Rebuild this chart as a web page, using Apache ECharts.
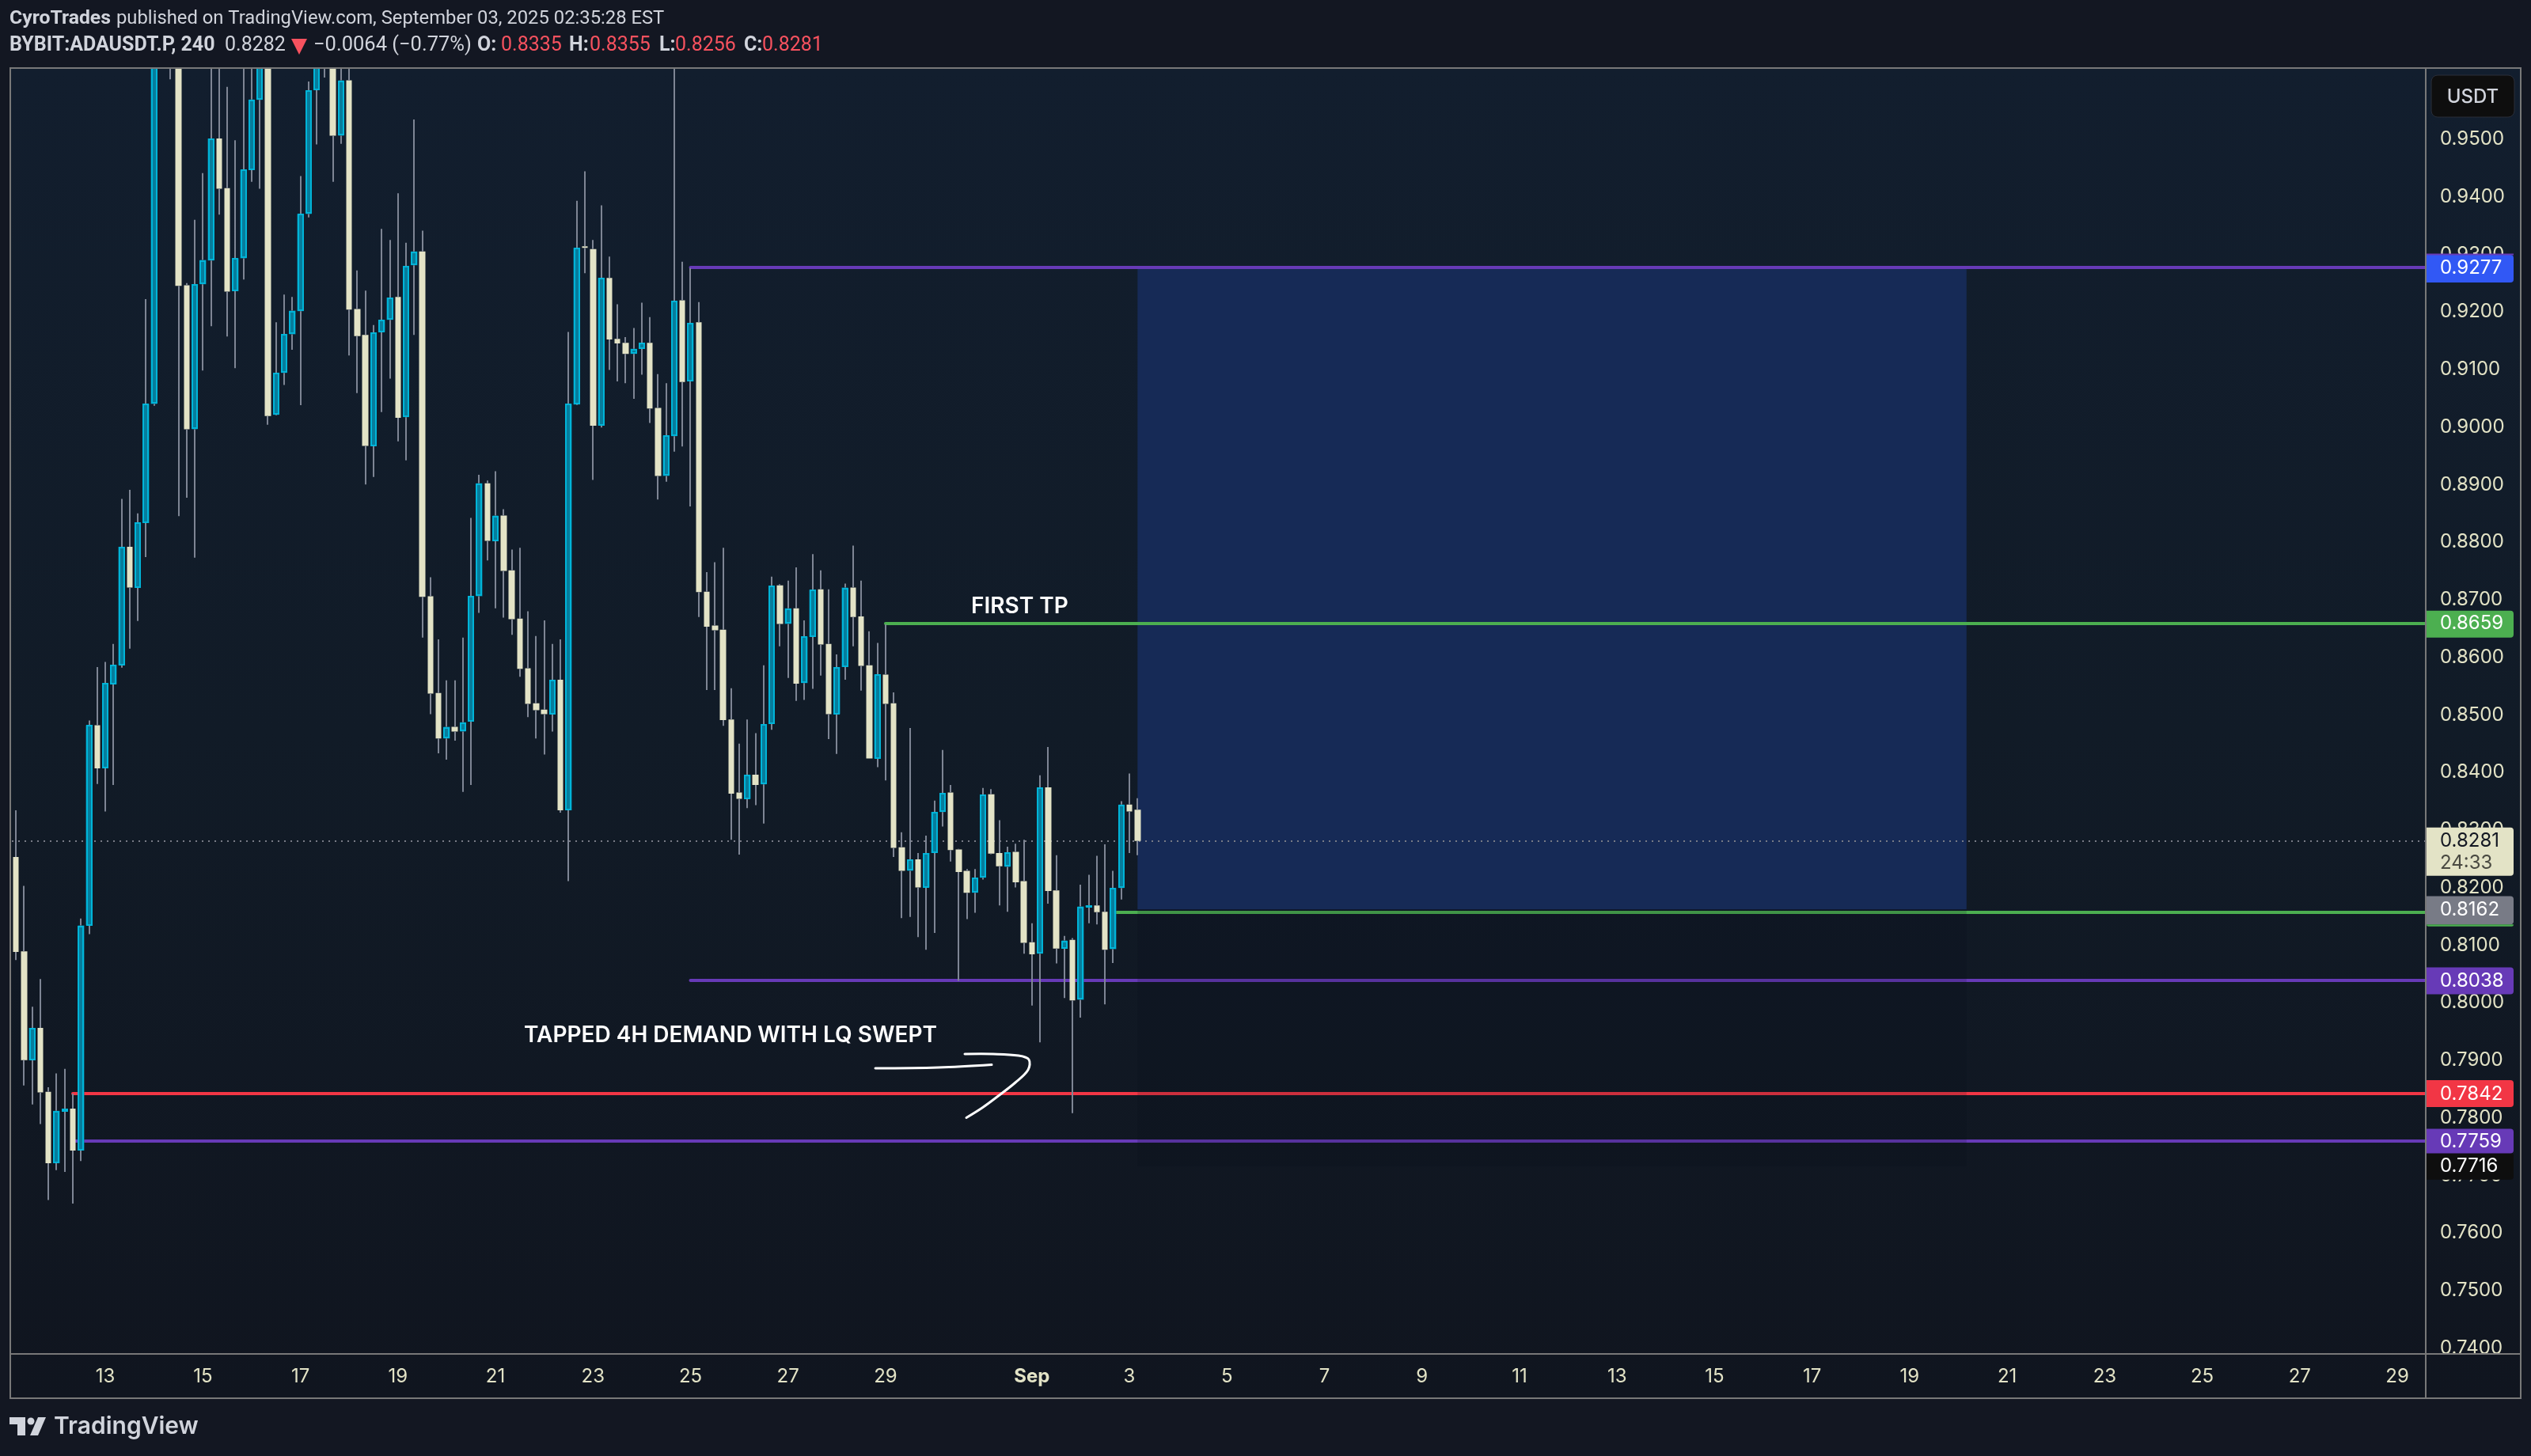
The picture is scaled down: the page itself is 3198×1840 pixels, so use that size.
<!DOCTYPE html>
<html><head><meta charset="utf-8">
<style>html,body{margin:0;padding:0;background:#131722}#c{width:3198px;height:1840px}</style>
<script src="https://cdn.jsdelivr.net/npm/echarts@6/dist/echarts.min.js"></script>
</head><body><div id="c"></div>
<script>
// [open, high, low, close] per 4h bar
const ohlc = [
[.8253,.8334,.8074,.8088],[.8089,.8203,.7856,.7900],[.7900,.7993,.7823,.7956],[.7956,.8041,.7789,.7844],
[.7845,.7853,.7657,.7721],[.7721,.7877,.7709,.7812],[.7811,.7885,.7706,.7816],[.7816,.7842,.7651,.7743],
[.7743,.8146,.7725,.8134],[.8134,.8490,.8119,.8482],[.8482,.8583,.8380,.8407],[.8407,.8592,.8332,.8555],
[.8553,.8623,.8378,.8587],[.8586,.8875,.8582,.8792],[.8792,.8891,.8615,.8721],[.8721,.8850,.8663,.8834],
[.8833,.9222,.8774,.9040],[.9040,.9850,.9037,.9800],[.9800,1.0150,.9720,1.0050],[1.0050,1.0200,.9604,.9950],
[.9950,.9980,.8845,.9245],[.9246,.9250,.8877,.8996],[.8996,.9360,.8773,.9248],[.9248,.9441,.9098,.9290],
[.9289,.9700,.9175,.9501],[.9501,.9680,.9369,.9414],[.9415,.9591,.9157,.9235],[.9236,.9498,.9102,.9293],
[.9293,.9640,.9256,.9447],[.9446,.9670,.9426,.9569],[.9568,.9800,.9414,.9720],[.9720,.9760,.9004,.9019],
[.9021,.9182,.9020,.9094],[.9094,.9230,.9073,.9161],[.9161,.9226,.9134,.9202],[.9201,.9436,.9038,.9370],
[.9370,.9600,.9364,.9585],[.9585,.9750,.9491,.9700],[.9760,.9800,.9607,.9700],[.9680,.9730,.9426,.9506],
[.9506,.9700,.9492,.9602],[.9602,.9680,.9124,.9204],[.9205,.9272,.9059,.9158],[.9160,.9237,.8900,.8967],
[.8967,.9177,.8913,.9164],[.9165,.9344,.9026,.9186],[.9186,.9325,.9084,.9225],[.9226,.9406,.8975,.9016],
[.9017,.9320,.8942,.9280],[.9281,.9534,.9160,.9305],[.9305,.9341,.8634,.8705],[.8706,.8739,.8501,.8537],
[.8538,.8631,.8433,.8459],[.8459,.8560,.8422,.8479],[.8479,.8560,.8455,.8471],[.8471,.8634,.8366,.8487],
[.8488,.8842,.8378,.8706],[.8706,.8917,.8677,.8902],[.8902,.8907,.8768,.8802],[.8802,.8923,.8685,.8846],
[.8846,.8857,.8669,.8750],[.8751,.8787,.8639,.8666],[.8667,.8790,.8566,.8580],[.8581,.8680,.8496,.8519],
[.8520,.8637,.8459,.8508],[.8509,.8664,.8431,.8501],[.8501,.8623,.8471,.8561],[.8561,.8631,.8330,.8334],
[.8334,.9165,.8211,.9040],[.9039,.9393,.9038,.9311],[.9314,.9444,.9267,.9311],[.9309,.9325,.8908,.9002],
[.9002,.9385,.8999,.9259],[.9259,.9296,.9099,.9152],[.9153,.9213,.9079,.9145],[.9146,.9156,.9076,.9127],
[.9127,.9172,.9049,.9136],[.9136,.9216,.9091,.9146],[.9146,.9191,.9007,.9032],[.9033,.9092,.8874,.8915],
[.8915,.9076,.8905,.8985],[.8984,.9700,.8957,.9219],[.9220,.9287,.8966,.9078],[.9079,.9276,.8862,.9181],
[.9182,.9217,.8670,.8713],[.8714,.8748,.8543,.8653],[.8655,.8765,.8543,.8647],[.8648,.8790,.8481,.8491],
[.8492,.8546,.8283,.8363],[.8365,.8450,.8257,.8354],[.8354,.8492,.8338,.8396],[.8396,.8468,.8343,.8378],
[.8379,.8586,.8311,.8484],[.8484,.8740,.8474,.8724],[.8725,.8727,.8619,.8658],[.8658,.8733,.8564,.8685],
[.8685,.8756,.8524,.8554],[.8555,.8664,.8526,.8636],[.8635,.8779,.8545,.8717],[.8718,.8751,.8568,.8622],
[.8623,.8718,.8458,.8501],[.8501,.8605,.8432,.8583],[.8583,.8728,.8561,.8721],[.8721,.8794,.8619,.8670],
[.8671,.8733,.8542,.8585],[.8586,.8645,.8424,.8424],[.8424,.8625,.8409,.8570],[.8570,.8657,.8386,.8519],
[.8520,.8539,.8253,.8269],[.8270,.8296,.8147,.8229],[.8229,.8477,.8149,.8249],[.8249,.8260,.8114,.8200],
[.8200,.8290,.8092,.8260],[.8260,.8351,.8121,.8331],[.8331,.8439,.8306,.8364],[.8365,.8378,.8245,.8265],
[.8266,.8267,.8038,.8227],[.8229,.8232,.8145,.8191],[.8191,.8232,.8156,.8217],[.8217,.8373,.8214,.8361],
[.8362,.8371,.8258,.8259],[.8260,.8317,.8169,.8237],[.8236,.8271,.8158,.8261],[.8262,.8276,.8200,.8209],
[.8211,.8283,.8085,.8104],[.8105,.8138,.7995,.8084],[.8085,.8395,.7931,.8374],[.8374,.8444,.8172,.8194],
[.8195,.8256,.8068,.8094],[.8094,.8116,.8008,.8108],[.8109,.8112,.7808,.8004],[.8005,.8205,.7974,.8167],
[.8166,.8222,.8138,.8169],[.8169,.8255,.8136,.8157],[.8158,.8275,.7997,.8092],[.8093,.8229,.8069,.8199],
[.8199,.8350,.8179,.8344],[.8344,.8398,.8260,.8332],[.8335,.8355,.8256,.8281]
];
// time axis: bars per day is six; labels sit on local midnights
const barCount = 297;
const firstLabelBar = 11;
const barsPerDay = 6;
const dayLabels = ['13','15','17','19','21','23','25','27','29','Sep','3','5','7','9','11','13','15','17','19','21','23','25','27','29'];
const dayGaps   = [0,2,2,2,2,2,2,2,2,3,2,2,2,2,2,2,2,2,2,2,2,2,2,2];
const priceTicks = [.74,.75,.76,.77,.78,.79,.80,.81,.82,.83,.84,.85,.86,.87,.88,.89,.90,.91,.92,.93,.94,.95];
const priceMin = 0.73898, priceMax = 0.96221;

// horizontal levels: [first bar, price, colour]
const levelBars   = [83, 107, 135, 83, 7, 7];
const levelPrices = [.9277, .8659, .8157, .8038, .7842, .7759];
const levelColors = ['#673ab7', '#4caf50', '#4caf50', '#673ab7', '#f23645', '#673ab7'];
const lastPrice = 0.8281;

// risk/reward zone: first bar, last bar, target, entry, stop
const zoneFirstBar = 138, zoneLastBar = 240;
const zoneTarget = 0.9277, zoneEntry = 0.8162, zoneStop = 0.7716;

// price tags on the axis
const tagPrices = [.9277,.8659,.8281,.8162,.8038,.7842,.7716,.7759];
const tagTexts  = ['0.9277','0.8659','0.8281','0.8162','0.8038','0.7842','0.7716','0.7759'];
const tagFills  = ['#3158f5','#4caf50','#e3e3c6','#787b86','#673ab7','#f23645','#0e0e0e','#673ab7'];
const tagInks   = ['#ffffff','#ffffff','#131722','#ffffff','#ffffff','#ffffff','#ffffff','#ffffff'];
const tagAbove  = [16,16,17,16.6,17,17,17,16];
const tagBelow  = [19,18,44,19,17,17,17,15];

const categories = new Array(barCount).fill('');
{ let b = firstLabelBar; dayLabels.forEach((t,k)=>{ b += dayGaps[k]*barsPerDay; categories[b] = t; }); }

const INK='#e3e3c6', UI='#d1d4dc', RED='#f7525f';
const F='Inter', R='Roboto';
const tx=(x,y,text,fill,font,weight,size)=>({type:'text',z:50,silent:true,style:{x,y,text,fill,fontFamily:font,fontWeight:weight||400,fontSize:size||24,textVerticalAlign:'middle',textAlign:'left'}});
const ln=(x1,y1,x2,y2,c,w)=>({type:'line',z:40,silent:true,shape:{x1,y1,x2,y2},style:{stroke:c||'#787878',lineWidth:w||2}});
const stroke=(pts)=>({type:'polyline',z:45,silent:true,shape:{points:pts,smooth:0.35},style:{stroke:'#ffffff',lineWidth:3,fill:null,lineCap:'round',lineJoin:'round'}});

const graphicEls=[
 {type:'rect',z:-10,silent:true,shape:{x:12,y:86,width:3173,height:1681},style:{fill:new echarts.graphic.LinearGradient(0,0,0,1,[{offset:0,color:'#121e2e'},{offset:.5,color:'#111b27'},{offset:1,color:'#10151f'}])}},
 {type:'rect',z:20,silent:true,shape:{x:0,y:0,width:3198,height:85},style:{fill:'#131722'}},
 ln(12,86,3186,86),ln(12,1767,3186,1767),ln(13,86,13,1767),ln(3185,86,3185,1767),ln(3065,86,3065,1767),ln(13,1711,3185,1711),
 {type:'rect',z:48,silent:true,shape:{x:3072,y:95,width:105,height:53,r:8},style:{fill:'#0e0e0e',stroke:'#2a2e39',lineWidth:1}},
 {type:'text',z:50,silent:true,style:{x:3124.5,y:122.5,text:'USDT',fill:'#d1d4dc',fontFamily:F,fontWeight:500,fontSize:24,textAlign:'center',textVerticalAlign:'middle'}},
 tx(12,24,'CyroTrades',UI,R,700,24.8),tx(147,24,'published on TradingView.com, September 03, 2025 02:35:28 EST',UI,R,400,23.8),
 tx(12,58,'BYBIT:ADAUSDT.P, 240',UI,R,700,25),tx(284,58,'0.8282',UI,R,400,25),
 {type:'polygon',z:50,silent:true,shape:{points:[[368,49],[388,49],[378,69]]},style:{fill:RED}},
 tx(396,58,'\u22120.0064 (\u22120.77%)',UI,R,400,25.5),
 tx(603,58,'O:',UI,R,700,25),tx(633,58,'0.8335',RED,R,400,25),tx(719,58,'H:',UI,R,700,25),tx(745,58,'0.8355',RED,R,400,25),
 tx(833,58,'L:',UI,R,700,25),tx(853,58,'0.8256',RED,R,400,25),tx(940,58,'C:',UI,R,700,25),tx(963,58,'0.8281',RED,R,400,25),
 tx(662,1308.5,'TAPPED 4H DEMAND WITH LQ SWEPT','#ffffff',F,600,28),
 tx(1227,766.5,'FIRST TP','#ffffff',F,600,28),
 stroke([[1106,1350],[1186,1349],[1253,1345.5]]),
 stroke([[1219,1332],[1255,1332],[1287,1334],[1300,1339],[1299,1352],[1283,1368],[1260,1386],[1241,1400],[1221,1412.5]]),
 {type:'rect',z:50,silent:true,shape:{x:12,y:1791,width:20,height:9},style:{fill:UI}},
 {type:'rect',z:50,silent:true,shape:{x:22,y:1791,width:10,height:23},style:{fill:UI}},
 {type:'circle',z:50,silent:true,shape:{cx:39,cy:1796,r:4.5},style:{fill:UI}},
 {type:'polygon',z:50,silent:true,shape:{points:[[48,1791],[58,1791],[48,1814],[38,1814]]},style:{fill:UI}},
 tx(68,1803,'TradingView',UI,F,600,30)
];

const barRows = ohlc.map((d,i)=>[i,d[0],d[1],d[2],d[3]]);
const candleData = ohlc.map(d=>[d[0],d[3],d[2],d[1]]);

const option={
 backgroundColor:'#131722',animation:false,
 grid:{left:15,right:133,top:87,bottom:129,containLabel:false},
 xAxis:{type:'category',data:categories,boundaryGap:true,axisLine:{show:false},axisTick:{show:false},splitLine:{show:false},
  axisLabel:{show:true,interval:0,margin:17,fontFamily:F,fontSize:24,color:INK,hideOverlap:false,
   formatter:v=>v==='Sep'?'{b|Sep}':v,rich:{b:{fontFamily:F,fontSize:24,fontWeight:700,color:INK}}}},
 yAxis:{type:'value',position:'right',min:priceMin,max:priceMax,scale:true,axisLine:{show:false},axisTick:{show:false},splitLine:{show:false},
  axisLabel:{show:true,customValues:priceTicks,margin:18,align:'left',padding:[3,0,0,0],fontFamily:F,fontSize:24,color:INK,showMinLabel:true,showMaxLabel:true,formatter:v=>v.toFixed(4)}},
 graphic:{elements:graphicEls},
 series:[
  {type:'custom',name:'zone',z:1,silent:true,clip:true,data:[[zoneFirstBar,zoneLastBar,zoneTarget,zoneEntry]],encode:{x:[0,1],y:[2,3]},
   renderItem(p,api){const a=api.coord([api.value(0),api.value(2)]),b=api.coord([api.value(1),api.value(3)]);
     return {type:'rect',shape:{x:a[0],y:a[1],width:b[0]-a[0],height:b[1]-a[1]},style:{fill:'#162a56'}};}},
  {type:'custom',name:'levels',z:2,silent:true,clip:false,data:levelBars.map((b,i)=>[b,levelPrices[i],levelColors[i]]),encode:{x:0,y:1},
   renderItem(p,api){const a=api.coord([api.value(0),api.value(1)]);const cs=p.coordSys;const y=Math.round(a[1]);
     return {type:'line',shape:{x1:a[0],y1:y,x2:cs.x+cs.width,y2:y},style:{stroke:levelColors[p.dataIndex],lineWidth:4,lineCap:'round'}};}},
  {type:'custom',name:'last',z:2,silent:true,clip:true,data:[[0,lastPrice]],encode:{x:0,y:1},
   renderItem(p,api){const a=api.coord([api.value(0),api.value(1)]);const cs=p.coordSys;const y=Math.round(a[1]);
     return {type:'line',shape:{x1:cs.x,y1:y,x2:cs.x+cs.width,y2:y},style:{stroke:'#787b86',lineWidth:2,lineDash:[2,6]}};}},
  {type:'candlestick',name:'ADAUSDT.P',z:3,silent:true,barWidth:8,data:candleData,clip:true,
   itemStyle:{color:'#067d9c',color0:'#e3e3c6',borderColor:'transparent',borderColor0:'transparent',borderWidth:0}},
  {type:'custom',name:'wicks',z:4,silent:true,clip:true,data:barRows,encode:{x:0,y:[1,2,3,4]},
   renderItem(p,api){
     const i=api.value(0),o=api.value(1),h=api.value(2),l=api.value(3),c=api.value(4);
     const cs=p.coordSys;
     const x=Math.round(api.coord([i,o])[0]);
     const Y=v=>api.coord([i,v])[1];
     const hi=Math.max(o,c),lo=Math.min(o,c);
     const ch=[];
     const w=(y1,y2)=>ch.push({type:'line',shape:{x1:x,y1,x2:x,y2},style:{stroke:'#7e8594',lineWidth:2}});
     if(h>hi)w(Y(h),Y(hi)); if(l<lo)w(Y(lo),Y(l));
     if(c>o){const yt=Math.round(Y(c)),yb=Math.round(Y(o));
       ch.push({type:'rect',shape:{x:x-3,y:yt+1,width:6,height:Math.max(yb-yt-2,1)},style:{fill:'transparent',stroke:'#00b4d8',lineWidth:2}});}
     return {type:'group',children:ch,clipPath:{type:'rect',shape:{x:cs.x-10,y:cs.y,width:cs.width+10,height:cs.height}}};}},
  {type:'custom',name:'zoneShade',z:5,silent:true,clip:true,data:[[zoneFirstBar,zoneLastBar,zoneEntry,zoneStop]],encode:{x:[0,1],y:[2,3]},
   renderItem(p,api){const a=api.coord([api.value(0),api.value(2)]),b=api.coord([api.value(1),api.value(3)]);
     return {type:'rect',shape:{x:a[0],y:a[1],width:b[0]-a[0],height:b[1]-a[1]},style:{fill:'rgba(8,14,22,0.16)'}};}},
  {type:'custom',name:'tags',z:30,silent:true,clip:false,data:tagPrices.map((v,i)=>[0,v,tagTexts[i]]),encode:{x:0,y:1},
   renderItem(p,api){const k=p.dataIndex;const y=api.coord([0,api.value(1)])[1];const cs=p.coordSys;const x0=cs.x+cs.width+1;
     const ch=[{type:'rect',shape:{x:x0,y:y-tagAbove[k],width:110,height:tagAbove[k]+tagBelow[k],r:[0,4,4,0]},style:{fill:tagFills[k]}},
       {type:'text',style:{x:3083,y:y+0.5,text:tagTexts[k],fill:tagInks[k],fontFamily:F,fontSize:24,textVerticalAlign:'middle',textAlign:'left'}}];
     if(k===2)ch.push({type:'text',style:{x:3083,y:y+28,text:'24:33',fill:'#4a4a42',fontFamily:F,fontSize:24,textVerticalAlign:'middle',textAlign:'left'}});
     if(k===3)ch.push({type:'rect',shape:{x:x0,y:y+tagBelow[k],width:110,height:2.5,r:[0,0,3,3]},style:{fill:'#4caf50'}});
     if(k===0)ch.push({type:'rect',shape:{x:x0,y:y-tagAbove[k]-1.5,width:110,height:2},style:{fill:'#673ab7'}});
     return {type:'group',children:ch};}}
 ]};
const chart=echarts.init(document.getElementById('c'),null,{renderer:'canvas',width:3198,height:1840});
chart.setOption(option);
</script></body></html>
